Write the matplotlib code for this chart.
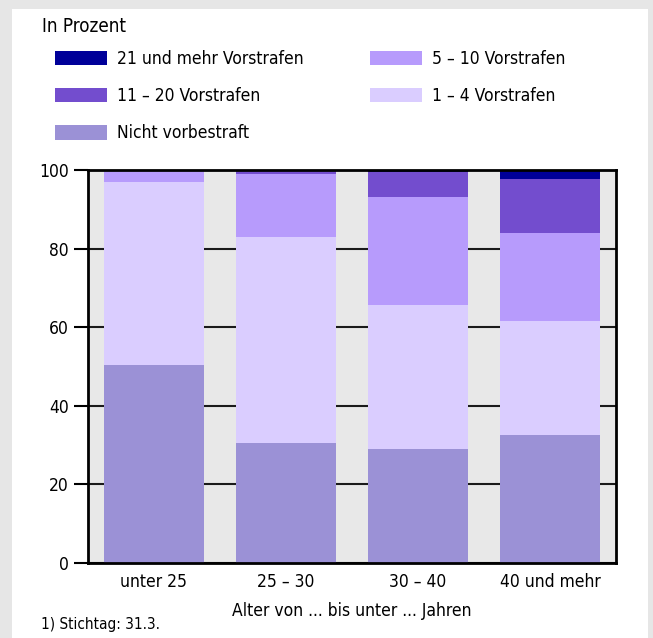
import matplotlib.pyplot as plt
from matplotlib.patches import Rectangle
import numpy as np

plt.rcParams['font.family'] = ['DejaVu Sans']
plt.rcParams['font.stretch'] = 'condensed'

categories = ['unter 25', '25 – 30', '30 – 40', '40 und mehr']
nicht_vorbestraft = [50.4, 30.5, 29.0, 32.6]
vorstrafen_1_4 = [46.5, 52.5, 36.6, 29.0]
vorstrafen_5_10 = [3.0, 16.0, 27.5, 22.4]
vorstrafen_11_20 = [0.1, 1.0, 6.4, 13.7]
vorstrafen_21 = [0.0, 0.0, 0.5, 2.3]

series = [
    ('Nicht vorbestraft', nicht_vorbestraft, '#9b91d6'),
    ('1 – 4 Vorstrafen', vorstrafen_1_4, '#dacdff'),
    ('5 – 10 Vorstrafen', vorstrafen_5_10, '#b79bfc'),
    ('11 – 20 Vorstrafen', vorstrafen_11_20, '#734dce'),
    ('21 und mehr Vorstrafen', vorstrafen_21, '#000099'),
]

fig = plt.figure(figsize=(6.53, 6.38), dpi=100, facecolor='#e6e6e6')
fig.patches.append(Rectangle((12/653, 0), 636/653, 1 - 9/638, transform=fig.transFigure,
                             facecolor='white', edgecolor='none', zorder=-10))

ax = fig.add_axes([88/653, 1 - 563/638, 528/653, 393/638])
ax.set_facecolor('#e8e8e8')

x = np.arange(len(categories))
bottom = np.zeros(len(categories))
handles = {}
for name, vals, col in series:
    b = ax.bar(x, vals, width=0.76, bottom=bottom, color=col, label=name, zorder=3)
    handles[name] = b
    bottom += np.array(vals)

ax.set_xlim(-0.5, 3.5)
ax.set_ylim(0, 100)
ax.set_yticks([0, 20, 40, 60, 80, 100])
ax.set_xticks(x)
ax.set_xticklabels(categories)
ax.tick_params(axis='y', length=10, width=1.5, pad=4, labelsize=12.5)
ax.tick_params(axis='x', length=0, pad=7, labelsize=12.5)
ax.grid(axis='y', color='#1a1a1a', linewidth=1.5, zorder=1)
for s in ax.spines.values():
    s.set_linewidth(2)
    s.set_zorder(5)

order = ['21 und mehr Vorstrafen', '11 – 20 Vorstrafen', 'Nicht vorbestraft',
         '5 – 10 Vorstrafen', '1 – 4 Vorstrafen']
fig.legend([handles[n] for n in order], order, ncol=2, loc='upper left',
           bbox_to_anchor=(55/653, 1 - 50/638), frameon=False, fontsize=12.5,
           handlelength=3.0, handleheight=0.92, handletextpad=0.55,
           labelspacing=1.1, columnspacing=3.85, borderaxespad=0, borderpad=0)

fig.text(42/653, 1 - 26/638, 'In Prozent', fontsize=13.5, va='center')
fig.text(352/653, 1 - 611/638, 'Alter von ... bis unter ... Jahren', fontsize=12.5,
         ha='center', va='center')
fig.text(41/653, 1 - 625/638, '1) Stichtag: 31.3.', fontsize=11, va='center')

fig.savefig('out.png', dpi=100, facecolor=fig.get_facecolor())
